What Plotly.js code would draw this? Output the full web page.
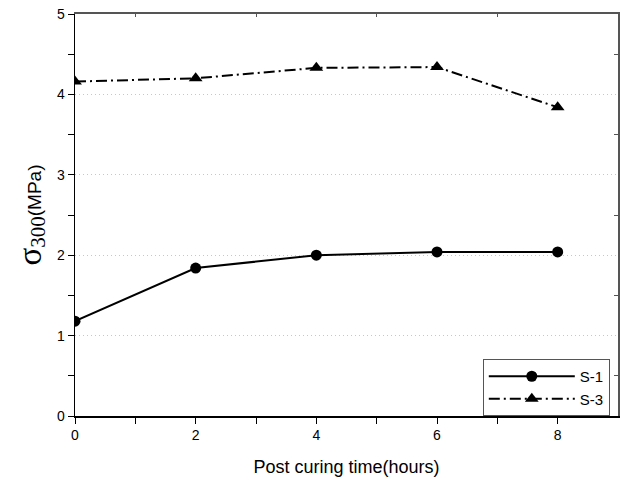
<!DOCTYPE html>
<html>
<head>
<meta charset="utf-8">
<script src="https://cdn.plot.ly/plotly-3.0.1.min.js"></script>
<style>html,body{margin:0;padding:0;background:#fff;}</style>
</head>
<body>
<div id="chart" style="width:622px;height:485px;"></div>
<script>
const hours = [0, 2, 4, 6, 8];
const s1 = [1.18, 1.84, 2.00, 2.04, 2.04];
const s3 = [4.16, 4.20, 4.33, 4.34, 3.84];
const seriesNames = ['S-1', 'S-3'];
const xMajorTicks = [0, 2, 4, 6, 8];
const xMinorTicks = [1, 3, 5, 7];
const yMajorTicks = [0, 1, 2, 3, 4, 5];
const yMinorTicks = [0.5, 1.5, 2.5, 3.5, 4.5];

const traces = [
  {x: hours, y: s1, name: seriesNames[0], type: 'scatter', mode: 'lines+markers',
   line: {color: '#000', width: 2, dash: 'solid'},
   marker: {symbol: 'circle', size: 11, color: '#000'}},
  {x: hours, y: s3, name: seriesNames[1], type: 'scatter', mode: 'lines+markers',
   line: {color: '#000', width: 2, dash: '11px,4px,2px,4px'},
   marker: {symbol: 'triangle-up', size: 12, color: '#000'}},
  {x: hours, y: s1, xaxis: 'x2', yaxis: 'y2', type: 'scatter', mode: 'markers',
   showlegend: false, hoverinfo: 'skip', opacity: 0, marker: {size: 1}}
];

const layout = {
  width: 622, height: 485,
  margin: {l: 75, r: 4, t: 14, b: 69},
  paper_bgcolor: '#fff', plot_bgcolor: '#fff',
  font: {family: 'Liberation Sans, Arial, sans-serif', color: '#000', size: 14},
  showlegend: true,
  legend: {x: 0.751, y: 0, xanchor: 'left', yanchor: 'bottom',
    bordercolor: '#555', borderwidth: 1, bgcolor: '#fff',
    font: {size: 15}, itemwidth: 86, tracegroupgap: 0, tracegroupgap: 0},
  xaxis: {range: [0, 9], tickvals: xMajorTicks, ticks: 'outside', ticklen: 6,
    tickwidth: 1, tickcolor: '#000', showline: true, linecolor: '#000', linewidth: 1.5,
    showgrid: false, zeroline: false, tickfont: {size: 14},
    minor: {tickvals: xMinorTicks, ticks: 'outside', ticklen: 6, tickcolor: '#000', showgrid: false},
    title: {text: 'Post curing time(hours)', font: {size: 18}, standoff: 18}},
  yaxis: {range: [0, 5], tickvals: yMajorTicks, ticks: 'outside', ticklen: 6,
    tickwidth: 1, tickcolor: '#000', showline: true, linecolor: '#000', linewidth: 1.5,
    showgrid: true, gridcolor: '#c8c8c8', griddash: '1px,3px', gridwidth: 1, zeroline: false,
    tickfont: {size: 14},
    minor: {tickvals: yMinorTicks, ticks: 'outside', ticklen: 6, tickcolor: '#000', showgrid: false},
    title: {text: '<span style="font-family:Liberation Serif;font-size:33px">σ</span><sub><span style="font-family:Liberation Serif;font-size:21px">300</span></sub>(MPa)', font: {size: 19}, standoff: 10}},
  xaxis2: {overlaying: 'x', side: 'top', anchor: 'y', range: [0, 9], tickvals: xMinorTicks,
    ticks: 'inside', ticklen: 3, tickcolor: '#555', showticklabels: false,
    showline: true, linecolor: '#555', linewidth: 2, showgrid: false, zeroline: false},
  yaxis2: {overlaying: 'y', side: 'right', anchor: 'x', range: [0, 5], tickvals: yMinorTicks,
    ticks: 'inside', ticklen: 4, tickcolor: '#555', showticklabels: false,
    showline: true, linecolor: '#555', linewidth: 2, showgrid: false, zeroline: false}
};

Plotly.newPlot('chart', traces, layout, {displayModeBar: false, staticPlot: true});
</script>
</body>
</html>
